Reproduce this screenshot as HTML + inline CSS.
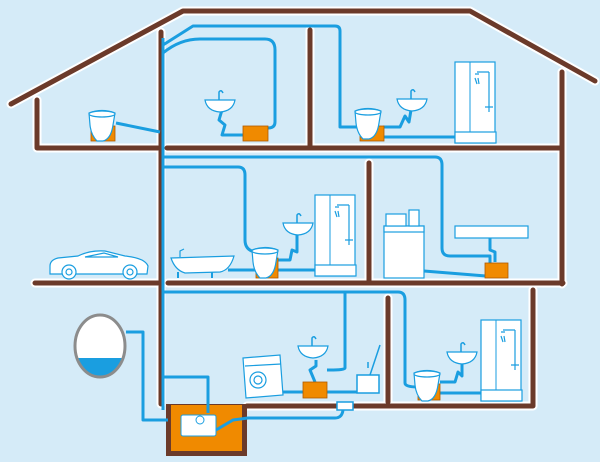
<!DOCTYPE html>
<html><head><meta charset="utf-8"><style>
html,body{margin:0;padding:0;background:#d5ebf8;}
svg{display:block;}
</style></head><body>
<svg width="600" height="462" viewBox="0 0 600 462" xmlns="http://www.w3.org/2000/svg">
<rect width="600" height="462" fill="#d5ebf8"/>
<defs>
<g id="toilet">
<path d="M0,2 Q13,-3 26,2 L24,14 Q22,28 14,30 L8,30 Q2,24 1,14 Z" fill="#fff" stroke="#1a9ee0" stroke-width="1.2"/>
<ellipse cx="13" cy="3" rx="13" ry="3" fill="#fff" stroke="#1a9ee0" stroke-width="1.2"/>
</g>
<g id="sink">
<path d="M0,3 L30,3 Q28,14 15,15 Q2,14 0,3 Z" fill="#fff" stroke="#1a9ee0" stroke-width="1.2"/>
<path d="M14,3 L14,-5 Q16,-8 18,-4" fill="none" stroke="#1a9ee0" stroke-width="1.5"/>
</g>
<g id="shower">
<rect x="0" y="0" width="40" height="81" fill="#fff" stroke="#1a9ee0" stroke-width="1.2"/>
<line x1="15" y1="0" x2="15" y2="70" stroke="#1a9ee0" stroke-width="1"/>
<rect x="0" y="70" width="41" height="11" fill="#fff" stroke="#1a9ee0" stroke-width="1.2"/>
<path d="M34,10 L34,50 M22,10 L34,10 M20,12 l4,0 M20,16 l2,6 M23,16 l1,6 M30,45 l8,0" fill="none" stroke="#1a9ee0" stroke-width="1.2"/>
</g>
</defs>

<g fill="none" stroke-linecap="round" stroke-linejoin="round">
<g stroke="#fff" stroke-width="9">
<path d="M11,104 L183,11 L470,11 L595,81"/>
<path d="M37,100 L37,148 L158,148 M167,148 L562,148 M562,72 L562,284 M310,30 L310,148 M35,283 L158,283 M168,283 L563,283 M369,163 L369,283 M388,298 L388,402 M533,290 L533,406 L247,406 M161,32 L161,404"/>
</g>
<g stroke="#6b3a2a" stroke-width="5">
<path d="M11,104 L183,11 L470,11 L595,81"/>
<path d="M37,100 L37,148 L158,148 M167,148 L562,148 M562,72 L562,284 M310,30 L310,148 M35,283 L158,283 M168,283 L563,283 M369,163 L369,283 M388,298 L388,402 M533,290 L533,406 L247,406 M161,32 L161,404"/>
</g>
</g>

<rect x="166" y="404" width="81" height="52" fill="#6b3a2a"/>
<rect x="171" y="405" width="71" height="46" fill="#f08a00"/>

<g fill="none" stroke="#1a9ee0" stroke-width="3" stroke-linejoin="round">
<path d="M163,38 L163,410"/>
<path d="M163,45 L193,26 L335,26 Q340,26 340,31 L340,127 L360,127"/>
<path d="M163,53 Q180,39 200,39 L265,39 Q275,39 275,50 L275,122 Q275,128 268,128"/>
<path d="M116,123 L160,132"/>
<path d="M383,137 L455,137"/>
<path d="M383,127 L400,127 L405,116 L409,122 L411,110"/>
<path d="M222,110 L219,120 L225,125 L222,135 L243,135"/>
<path d="M163,157 L435,157 Q442,157 442,165 L442,248 Q442,256 450,256 L490,256 L490,263"/>
<path d="M163,167 L238,167 Q245,167 245,175 L245,240 Q245,250 255,252"/>
<path d="M228,270 L255,270 M278,270 L315,270"/>
<path d="M278,260 L290,260 L292,250 L297,252 L297,235"/>
<path d="M424,271 L486,276"/>
<path d="M490,238 L490,250 L495,252 L495,262"/>
<path d="M163,292 L398,292 Q405,292 405,300 L405,383 Q405,387 418,387"/>
<path d="M345,292 L345,368 Q345,370 330,370 L327,370"/>
<path d="M283,392 L303,392 M327,392 L360,392"/>
<path d="M440,393 L482,393"/>
<path d="M440,382 L455,382 L458,372 L462,376 L462,364"/>
<path d="M315,382 L310,370 L316,366 L316,360"/>
<path d="M126,332 L143,332 L143,420 L168,420"/>
<path d="M163,377 L208,377 L208,413"/>
<path d="M216,430 L233,420 L248,418 L335,418 Q342,418 343,410"/>
</g>

<g fill="#f08a00" stroke="#b05a00" stroke-width="0.8">
<rect x="243" y="126" width="25" height="15"/>
<rect x="91" y="126" width="24" height="15"/>
<rect x="360" y="126" width="24" height="15"/>
<rect x="256" y="258" width="22" height="20"/>
<rect x="485" y="263" width="23" height="15"/>
<rect x="303" y="382" width="24" height="16"/>
<rect x="418" y="384" width="22" height="16"/>
</g>

<use href="#toilet" x="89" y="111"/>
<use href="#toilet" x="355" y="109"/>
<use href="#toilet" x="252" y="248"/>
<use href="#toilet" x="414" y="371"/>
<use href="#sink" x="205" y="97"/>
<use href="#sink" x="397" y="96"/>
<use href="#sink" x="283" y="220"/>
<use href="#sink" x="298" y="343"/>
<use href="#sink" x="447" y="349"/>
<use href="#shower" x="455" y="62"/>
<use href="#shower" x="315" y="195"/>
<use href="#shower" x="481" y="320"/>

<g fill="#fff" stroke="#1a9ee0" stroke-width="1.2">
<path d="M171,258 L234,256 Q230,270 220,272 L185,273 Q175,270 171,258 Z"/>
<path d="M178,272 l0,6 M212,272 l0,6" fill="none" stroke-width="2"/>
<path d="M180,257 l0,-6 l4,-2" fill="none"/>
</g>
<g fill="#fff" stroke="#1a9ee0" stroke-width="1.2">
<path d="M50,266 Q50,260 58,258 L78,256 Q90,250 105,251 L125,256 Q145,258 148,266 L147,274 L50,274 Z"/>
<circle cx="69" cy="272" r="7"/><circle cx="130" cy="272" r="7"/>
<circle cx="69" cy="272" r="3"/><circle cx="130" cy="272" r="3"/>
<path d="M85,257 L104,253 L118,257 Z" fill="none"/>
</g>
<g fill="#fff" stroke="#1a9ee0" stroke-width="1.2">
<rect x="384" y="226" width="40" height="52"/>
<rect x="384" y="226" width="40" height="6"/>
<rect x="386" y="214" width="20" height="12"/>
<rect x="409" y="210" width="10" height="16"/>
<rect x="455" y="226" width="73" height="12"/>
</g>
<g fill="#fff" stroke="#1a9ee0" stroke-width="1.2">
<path d="M243,358 L280,355 L283,395 L246,398 Z"/>
<circle cx="258" cy="380" r="8"/><circle cx="258" cy="380" r="4"/>
<line x1="245" y1="366" x2="281" y2="364"/>
</g>
<g fill="#fff" stroke="#1a9ee0" stroke-width="1.5">
<rect x="357" y="375" width="22" height="18"/>
<line x1="370" y1="375" x2="380" y2="345"/>
<line x1="368" y1="362" x2="368" y2="368"/>
<rect x="337" y="402" width="16" height="8"/>
</g>
<rect x="181" y="415" width="35" height="21" rx="2" fill="#fff" stroke="#1a9ee0" stroke-width="1"/>
<circle cx="200" cy="420" r="4" fill="#fff" stroke="#1a9ee0" stroke-width="1"/>
<clipPath id="tc"><ellipse cx="100" cy="346" rx="25" ry="31"/></clipPath>
<ellipse cx="100" cy="346" rx="25" ry="31" fill="#fff"/>
<rect x="70" y="358" width="60" height="30" fill="#1a9ee0" clip-path="url(#tc)"/>
<ellipse cx="100" cy="346" rx="25" ry="31" fill="none" stroke="#8c8c8c" stroke-width="3"/>
</svg>
</body></html>
